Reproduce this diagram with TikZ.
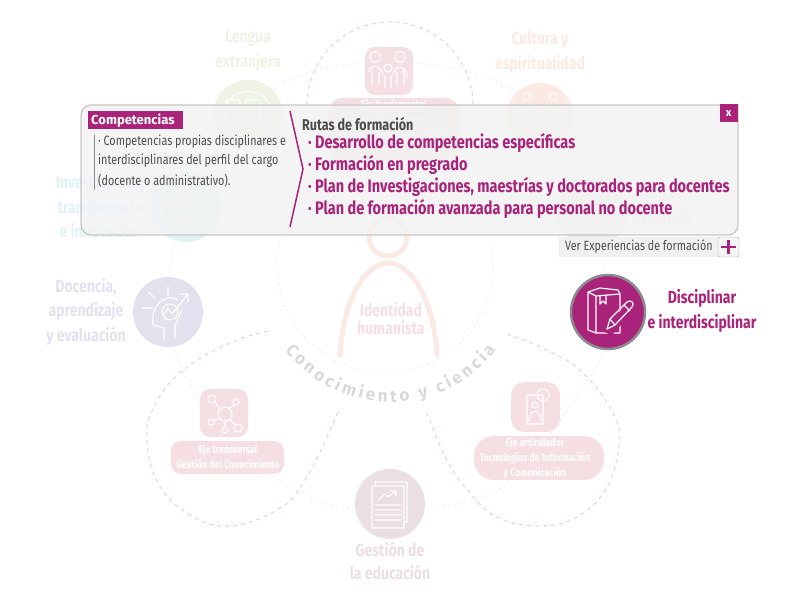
\documentclass[tikz,border=0pt]{standalone}
\usepackage{fontspec}
\setmainfont{Fira Sans}
\newfontfamily\condfont[FakeStretch=0.8]{Fira Sans}
\usetikzlibrary{decorations.text}
\definecolor{magenta1}{HTML}{A9237A}
\definecolor{rosa}{HTML}{F5DFE2}
\definecolor{rosadash}{HTML}{F3D3DC}
\definecolor{panelgray}{HTML}{F2F2F2}
\definecolor{textgray}{HTML}{4D4D4D}
\definecolor{softgreen}{HTML}{EEF3E4}
\definecolor{softorange}{HTML}{FBEAE4}
\definecolor{softgray}{HTML}{ECECEC}
\definecolor{softcyan}{HTML}{DFF3F6}
\definecolor{softviolet}{HTML}{E4E1EF}
\definecolor{softwine}{HTML}{EADFE3}
\tikzset{
  softlabel/.style={font=\condfont\bfseries\fontsize{17.5}{17.5}\selectfont,align=center},
  whitelabel/.style={font=\condfont\bfseries\fontsize{11}{15}\selectfont,align=center,text=white},
  route/.style={font=\condfont\bfseries\fontsize{18.1}{18.1}\selectfont,text=magenta1,anchor=west,inner sep=0pt},
  bodytext/.style={font=\condfont\fontsize{13.5}{13.5}\selectfont,text=textgray,anchor=west,inner sep=0pt},
  iconline/.style={draw=white,line width=1.1pt,line cap=round,line join=round},
  dashring/.style={draw=rosadash,line width=1.2pt,dash pattern=on 4pt off 4pt},
  dotring/.style={draw=black!7,line width=1.4pt,dash pattern=on 1.4pt off 4pt},
}
\begin{document}
\begin{tikzpicture}[x=1pt,y=-1pt]
\useasboundingbox (0,0) rectangle (801,601);
%
\draw[dotring] plot[smooth cycle,tension=0.6] coordinates {(248,115) (300,75) (390,62) (480,75) (540,116) (592,212) (608,312) (597,365) (507,483) (427,508) (390,504) (330,505) (250,460) (193,390) (168,312) (186,207)};
\draw[dotring] (385,265) circle (108);
%
\draw[dashring] (307,105) arc[start angle=180,end angle=360,radius=83];
\draw[dashring] plot[smooth,tension=0.7] coordinates {(268,331) (230,343) (183,370) (155,405) (147,440) (158,483) (187,513) (227,526) (277,510) (307,477) (338,412)};
\draw[dashring] plot[smooth,tension=0.7] coordinates {(507,334) (547,350) (583,373) (613,413) (619,443) (607,487) (577,517) (537,526) (497,517) (470,493) (447,460) (427,413)};
%
\fill[softgreen] (248,115) circle (35);
\fill[softorange] (540,116) circle (33);
\fill[softgray] (592,212) circle (35);
\fill[softcyan] (186,207) circle (35);
\fill[softviolet] (168,312) circle (35);
\fill[softwine] (390,504) circle (35);
\draw[softorange,line width=5pt] (388,237) circle (19);
\draw[softorange,line width=5pt,line cap=round] (340,355) .. controls (343,300) and (365,263) .. (388,263) .. controls (411,263) and (434,300) .. (437,355);
%
\fill[rosa,rounded corners=10pt] (365,47) rectangle (413,95);
\fill[rosa,rounded corners=15pt] (328,98) rectangle (460,160);
\fill[rosa,rounded corners=10pt] (200,389) rectangle (248,437);
\fill[rosa,rounded corners=10pt] (171,441) rectangle (284,474);
\fill[rosa,rounded corners=13pt] (511,382) rectangle (560,432);
\fill[rosa,rounded corners=20pt] (474,436) rectangle (604,480);
%
\node[softlabel,text=softgreen] (lengua) at (248,51) {Lengua\\[6pt]extranjera};
\node[softlabel,text=softorange] (cultura) at (540,52) {Cultura y\\[6pt]espiritualidad};
\node[softlabel,text=softgray] (espanola) at (662,207) {Lengua\\[6pt]española};
\node[softlabel,text=softcyan] (investigacion) at (100,206) {Investigación,\\[6pt]transferencia\\[6pt]e innovación};
\node[softlabel,text=softviolet] (docencia) at (86,312) {Docencia,\\[6pt]aprendizaje\\[6pt]y evaluación};
\node[softlabel,text=softwine] (gestion) at (390,561) {Gestión de\\[6pt]la educación};
\node[softlabel,text=rosa,font=\condfont\bfseries\fontsize{17.5}{18}\selectfont] (identidad) at (391,319) {Identidad\\humanista};
\node[whitelabel] (ejefund) at (394,120) {Eje fundamental\\Humanismo cristiano y\\evangelización de la cultura};
\node[whitelabel] (ejetrans) at (228,457) {Eje transversal\\Gestión del Conocimiento};
\node[whitelabel] (ejeart) at (535,458) {Eje articulador\\Tecnologías de Información\\y Comunicación};
%
% family
\draw[iconline] (375,57) circle (5.5) (400,57) circle (5.5) (388,68) circle (4);
\draw[iconline] (369,72) .. controls (369,64) and (381,64) .. (383,75) (393,75) .. controls (395,64) and (407,64) .. (407,78) (372,70) -- (372,85) (379,72) -- (379,85) (397,72) -- (397,85) (404,70) -- (404,85) (385,76) -- (385,88) (391,76) -- (391,88);
% language
\draw[iconline] (248,115) circle (24) (226,100) rectangle (240,122) (246,100) rectangle (260,122);
% culture
\draw[iconline] (527,97) circle (4) (553,97) circle (4) (539,125) circle (5) (516,118) .. controls (516,105) and (535,105) .. (538,115) (564,118) .. controls (564,105) and (545,105) .. (542,115) (525,120) .. controls (525,135) and (553,135) .. (555,120);
% spanish
\draw[iconline] (571,192) rectangle (612,223);
% research
\draw[iconline] (186,193) circle (7) (161,205) -- (175,205) -- (198,207) -- (211,206) (161,205) -- (161,222) (175,222) -- (196,218) -- (211,206);
% head
\draw[iconline] (168,287) -- (168,295) (148,292) -- (155,298) (142,308) -- (152,308);
\draw[iconline] (164,339) -- (164,328) -- (153,325) -- (153,316) .. controls (155,300) and (170,294) .. (178,300) (175,339) -- (175,326) -- (182,310);
\draw[iconline] (170,312) circle (8) (163,316) -- (168,308) -- (172,314) -- (188,294) (180,294) -- (188,294) -- (188,302);
% network
\draw[iconline] (225,414) circle (7) (212,399) circle (4) (236,402) circle (3) (211,422) circle (3) (225,430) circle (3) (238,428) circle (4) (220,409) -- (215,402) (230,409) -- (234,404) (219,418) -- (214,421) (225,421) -- (225,427) (230,419) -- (235,425);
% phone
\draw[iconline] (527,395) rectangle (543,424) (543,395) circle (6) (535,405) circle (3) (529,421) .. controls (530,408) and (540,408) .. (541,421);
% document
\draw[iconline] (375,486) -- (375,482) -- (407,482) -- (407,522) -- (404,522) (372,486) rectangle (404,528) (375,505) -- (401,505) (375,510) -- (401,510) (375,515) -- (401,515) (375,520) -- (401,520) (378,500) -- (385,494) -- (388,497) -- (396,491) (391,491) -- (396,491) -- (396,496);
%
\fill[panelgray,fill opacity=0.86] (91,105) -- (738,105) -- (738,225) arc[start angle=0,end angle=90,radius=10] -- (91,235) arc[start angle=90,end angle=180,radius=10] -- (81,115) arc[start angle=180,end angle=270,radius=10] -- cycle;
\draw[black!22,line width=1.3pt] (91,105) -- (738,105) -- (738,225) arc[start angle=0,end angle=90,radius=10] -- (91,235) arc[start angle=90,end angle=180,radius=10] -- (81,115) arc[start angle=180,end angle=270,radius=10] -- cycle;
\node[fill=magenta1,text=white,font=\bfseries\fontsize{13}{13}\selectfont,minimum height=18pt,text width=89pt,inner ysep=0pt,inner xsep=3pt,anchor=north west,align=left] (competencias) at (88,111) {Competencias};
\node[fill=magenta1,text=white,font=\bfseries\fontsize{11}{11}\selectfont,minimum size=18pt,inner sep=0pt,anchor=north east] (cerrar) at (738,104) {x};
\draw[black!45,line width=0.8pt] (94,135) -- (94,190);
\node[bodytext] (comp1) at (98,142) {· Competencias propias disciplinares e};
\node[bodytext] (comp2) at (98,161) {interdisciplinares del perfil del cargo};
\node[bodytext] (comp3) at (98,181) {(docente o administrativo).};
\draw[magenta1,line width=1.5pt] (290,111) -- (303,169) -- (290,227);
\node[bodytext,font=\condfont\bfseries\fontsize{15.7}{15.7}\selectfont] (rutas) at (302,124) {Rutas de formación};
\node[route] (ruta1) at (308,143) {· Desarrollo de competencias específicas};
\node[route] (ruta2) at (308,165) {· Formación en pregrado};
\node[route] (ruta3) at (308,187) {· Plan de Investigaciones, maestrías y doctorados para docentes};
\node[route] (ruta4) at (308,209) {· Plan de formación avanzada para personal no docente};
%
\fill[black!6] (559,237) rectangle (718,257);
\node[bodytext,font=\condfont\fontsize{13.4}{13.4}\selectfont] (ver) at (565,247) {Ver Experiencias de formación};
\draw[black!35,fill=black!4,rounded corners=1.5pt] (718,237) rectangle (739,257);
\draw[magenta1,line width=2.6pt] (721,247) -- (736,247) (728.5,240) -- (728.5,254);
%
\fill[magenta1,draw=black!45,line width=2.5pt] (608,312) circle (37);
\draw[iconline,line width=1.2pt] (596,333) -- (588,330) -- (588,292) -- (600,288) -- (618,290) -- (620,294) -- (596,296) -- (588,292) (596,296) -- (596,333) -- (620,333) -- (620,294) (600,296) -- (600,304) -- (603,301) -- (606,304) -- (606,295);
\fill[magenta1] (604,332) -- (628,301) -- (636,308) -- (612,335) -- cycle;
\draw[iconline,line width=1.2pt] (607,329) -- (610,319) -- (627,302) .. controls (631,299) and (635,303) .. (632,307) -- (615,325) -- cycle (624,305) -- (630,311) (610,319) -- (615,325);
\node[softlabel,text=magenta1] (disciplinar) at (702,311) {Disciplinar\\[6pt]e interdisciplinar};
%
\path[decorate,decoration={text along path,text align={fit to path},text color=black!15,text={|\bfseries\fontsize{17}{17}\selectfont|Conocimiento y ciencia}}] (285,350) arc[start angle=142.5,end angle=37.5,radius=133];
\end{tikzpicture}
\end{document}
